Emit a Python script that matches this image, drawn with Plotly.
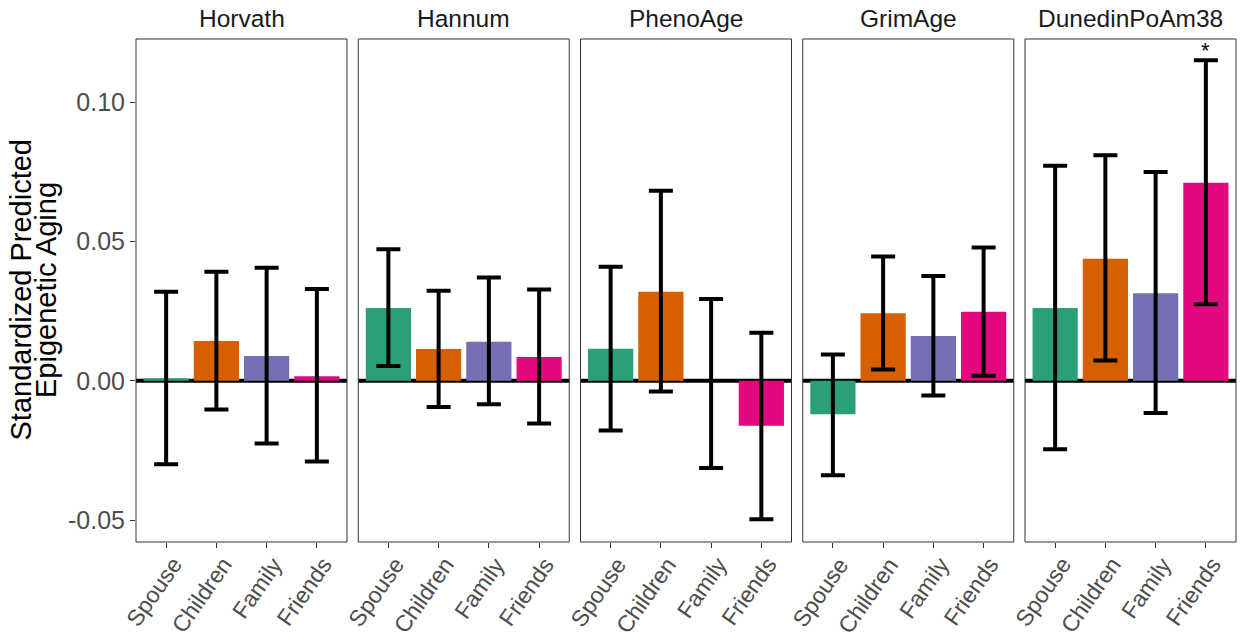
import plotly.graph_objects as go

clocks = ["Horvath", "Hannum", "PhenoAge", "GrimAge", "DunedinPoAm38"]
groups = ["Spouse", "Children", "Family", "Friends"]
colors = ["#2A9F78", "#D65F02", "#7570B3", "#E2087F"]

# estimates per clock (Spouse, Children, Family, Friends)
est = {
    "Horvath":       [0.0009, 0.0143, 0.0089, 0.0016],
    "Hannum":        [0.0262, 0.0114, 0.0140, 0.0086],
    "PhenoAge":      [0.0115, 0.0320, 0.0000, -0.0161],
    "GrimAge":       [-0.0120, 0.0243, 0.0161, 0.0248],
    "DunedinPoAm38": [0.0262, 0.0439, 0.0315, 0.0712],
}
lower = {
    "Horvath":       [-0.0300, -0.0103, -0.0225, -0.0290],
    "Hannum":        [0.0053, -0.0094, -0.0084, -0.0153],
    "PhenoAge":      [-0.0178, -0.0038, -0.0313, -0.0497],
    "GrimAge":       [-0.0339, 0.0041, -0.0053, 0.0018],
    "DunedinPoAm38": [-0.0246, 0.0073, -0.0116, 0.0275],
}
upper = {
    "Horvath":       [0.0320, 0.0392, 0.0406, 0.0330],
    "Hannum":        [0.0473, 0.0324, 0.0371, 0.0328],
    "PhenoAge":      [0.0410, 0.0683, 0.0294, 0.0173],
    "GrimAge":       [0.0095, 0.0447, 0.0377, 0.0479],
    "DunedinPoAm38": [0.0773, 0.0810, 0.0750, 0.1152],
}
signif = {
    "Horvath":       ["", "", "", ""],
    "Hannum":        ["", "", "", ""],
    "PhenoAge":      ["", "", "", ""],
    "GrimAge":       ["", "", "", ""],
    "DunedinPoAm38": ["", "", "", "*"],
}
y_ticks = [-0.05, 0.00, 0.05, 0.10]
y_title = ["Standardized Predicted", "Epigenetic Aging"]

W, H = 1240, 643
ml, mr, mt, mb = 136, 4, 39, 101
plot_w = W - ml - mr
gap = 11.25 / plot_w
pw = (1 - 4 * gap) / 5
FONT = "Liberation Sans, Arial, sans-serif"

fig = go.Figure()

for i, clock in enumerate(clocks):
    xa = "x" if i == 0 else f"x{i+1}"
    e = est[clock]
    fig.add_trace(go.Bar(
        x=groups, y=e, xaxis=xa, yaxis="y",
        marker=dict(color=colors, line=dict(width=0)),
        width=0.9,
        error_y=dict(type="data", symmetric=False,
                     array=[u - v for u, v in zip(upper[clock], e)],
                     arrayminus=[v - l for v, l in zip(e, lower[clock])],
                     color="black", thickness=4, width=12),
        showlegend=False, hoverinfo="skip",
    ))
    d0 = i * (pw + gap)
    axname = "xaxis" if i == 0 else f"xaxis{i+1}"
    fig.layout[axname] = dict(
        domain=[d0, d0 + pw], anchor="y", type="category",
        categoryorder="array", categoryarray=groups,
        range=[-0.6, 3.6], showline=False, automargin=False,
        ticks="outside", ticklen=5, tickcolor="#333333", tickwidth=1.2,
        showticklabels=False, showgrid=False, zeroline=False,
    )
    # panel border
    fig.add_shape(type="rect", xref=f"{xa} domain", yref="y domain", x0=0, x1=1, y0=0, y1=1,
                  line=dict(color="#333333", width=1), fillcolor="rgba(0,0,0,0)", layer="above")
    # zero line
    fig.add_shape(type="line", xref=f"{xa} domain", yref="y", x0=0, x1=1, y0=0, y1=0,
                  line=dict(color="black", width=4), layer="below")
    # strip title
    fig.add_annotation(text=clock, x=d0 + pw / 2, y=1, xref="paper", yref="paper",
                       xanchor="center", yanchor="middle", yshift=21, showarrow=False,
                       font=dict(family=FONT, size=24.5, color="#1A1A1A"))
    # rotated category labels
    for g in groups:
        fig.add_annotation(text=g, x=g, y=0, xref=xa, yref="y domain", textangle=-55,
                           xanchor="right", yanchor="top", xshift=22, yshift=-9,
                           showarrow=False, borderpad=0,
                           font=dict(family=FONT, size=23, color="#4D4D4D"))
    for g, s, u in zip(groups, signif[clock], upper[clock]):
        if s:
            fig.add_annotation(text=s, x=g, y=u, xref=xa, yref="y", xanchor="center",
                               yanchor="bottom", yshift=-5, showarrow=False,
                               font=dict(family=FONT, size=22, color="black"))

fig.update_layout(
    yaxis=dict(domain=[0, 1], range=[-0.0579, 0.1228], tickvals=y_ticks,
               ticktext=[f"{v:.2f}" for v in y_ticks],
               tickfont=dict(family=FONT, size=25, color="#4D4D4D"),
               ticks="outside", ticklen=5, tickcolor="#333333", tickwidth=1.2,
               showgrid=False, zeroline=False, showline=False, anchor="x", automargin=False),
    width=W, height=H, margin=dict(l=ml, r=mr, t=mt, b=mb, autoexpand=False),
    plot_bgcolor="white", paper_bgcolor="white", bargap=0.1,
)

for j, t in enumerate(y_title):
    fig.add_annotation(text=t, x=0, y=0.5, xref="paper", yref="paper", textangle=-90,
                       xanchor="center", yanchor="middle", xshift=-116 + 25.5 * j, showarrow=False,
                       font=dict(family=FONT, size=29, color="black"))

# remove the browser's default 8px page margin so the figure fills the window
fig.write_html("out.html", config={"displayModeBar": False},
               post_script="document.body.style.margin='0';")
